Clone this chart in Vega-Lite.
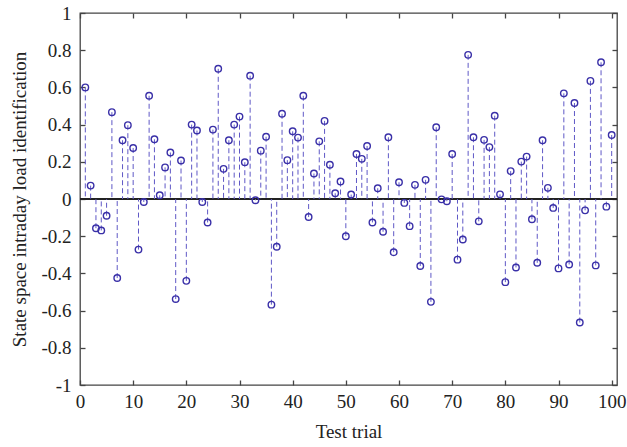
{
  "$schema": "https://vega.github.io/schema/vega-lite/v6.json",
  "width": 537,
  "height": 372,
  "autosize": {"type": "none"},
  "padding": {"left": 80, "top": 13, "right": 10, "bottom": 62},
  "background": "white",
  "config": {
    "view": {"stroke": "#444", "strokeWidth": 1.3},
    "font": "Liberation Serif",
    "axis": {
      "labelFont": "Liberation Serif",
      "titleFont": "Liberation Serif",
      "labelFontSize": 19,
      "titleFontSize": 19,
      "titleFontWeight": "normal",
      "labelColor": "#222",
      "titleColor": "#222",
      "grid": false,
      "domain": false,
      "tickColor": "#444",
      "tickWidth": 1.3,
      "tickSize": -5
    }
  },
  "data": {
    "values": [
      {"t":1,"v":0.60},{"t":2,"v":0.072},{"t":3,"v":-0.157},{"t":4,"v":-0.169},{"t":5,"v":-0.09},
      {"t":6,"v":0.467},{"t":7,"v":-0.425},{"t":8,"v":0.316},{"t":9,"v":0.397},{"t":10,"v":0.274},
      {"t":11,"v":-0.272},{"t":12,"v":-0.016},{"t":13,"v":0.555},{"t":14,"v":0.321},{"t":15,"v":0.02},
      {"t":16,"v":0.17},{"t":17,"v":0.25},{"t":18,"v":-0.538},{"t":19,"v":0.207},{"t":20,"v":-0.44},
      {"t":21,"v":0.40},{"t":22,"v":0.368},{"t":23,"v":-0.016},{"t":24,"v":-0.126},{"t":25,"v":0.373},
      {"t":26,"v":0.70},{"t":27,"v":0.162},{"t":28,"v":0.316},{"t":29,"v":0.40},{"t":30,"v":0.443},
      {"t":31,"v":0.198},{"t":32,"v":0.663},{"t":33,"v":-0.007},{"t":34,"v":0.26},{"t":35,"v":0.335},
      {"t":36,"v":-0.568},{"t":37,"v":-0.257},{"t":38,"v":0.458},{"t":39,"v":0.209},{"t":40,"v":0.364},
      {"t":41,"v":0.33},{"t":42,"v":0.555},{"t":43,"v":-0.097},{"t":44,"v":0.137},{"t":45,"v":0.31},
      {"t":46,"v":0.42},{"t":47,"v":0.184},{"t":48,"v":0.031},{"t":49,"v":0.094},{"t":50,"v":-0.20},
      {"t":51,"v":0.024},{"t":52,"v":0.242},{"t":53,"v":0.216},{"t":54,"v":0.285},{"t":55,"v":-0.126},
      {"t":56,"v":0.058},{"t":57,"v":-0.176},{"t":58,"v":0.332},{"t":59,"v":-0.286},{"t":60,"v":0.09},
      {"t":61,"v":-0.021},{"t":62,"v":-0.146},{"t":63,"v":0.076},{"t":64,"v":-0.36},{"t":65,"v":0.103},
      {"t":66,"v":-0.553},{"t":67,"v":0.386},{"t":68,"v":-0.002},{"t":69,"v":-0.012},{"t":70,"v":0.242},
      {"t":71,"v":-0.326},{"t":72,"v":-0.218},{"t":73,"v":0.775},{"t":74,"v":0.332},{"t":75,"v":-0.12},
      {"t":76,"v":0.318},{"t":77,"v":0.279},{"t":78,"v":0.448},{"t":79,"v":0.025},{"t":80,"v":-0.447},
      {"t":81,"v":0.15},{"t":82,"v":-0.368},{"t":83,"v":0.201},{"t":84,"v":0.228},{"t":85,"v":-0.109},
      {"t":86,"v":-0.343},{"t":87,"v":0.316},{"t":88,"v":0.06},{"t":89,"v":-0.048},{"t":90,"v":-0.373},
      {"t":91,"v":0.568},{"t":92,"v":-0.352},{"t":93,"v":0.516},{"t":94,"v":-0.664},{"t":95,"v":-0.061},
      {"t":96,"v":0.635},{"t":97,"v":-0.357},{"t":98,"v":0.735},{"t":99,"v":-0.041},{"t":100,"v":0.344}
    ]
  },
  "resolve": {"axis": {"x": "independent", "y": "independent"}},
  "layer": [
    {
      "mark": {"type": "rule", "color": "#222", "strokeWidth": 1.2},
      "encoding": {
        "y": {"datum": 0, "type": "quantitative", "scale": {"domain": [-1, 1]}, "axis": null}
      }
    },
    {
      "mark": {"type": "rule", "color": "#5f58c6", "strokeWidth": 1, "strokeDash": [5, 3]},
      "encoding": {
        "x": {"field": "t", "type": "quantitative", "axis": null},
        "y": {"field": "v", "type": "quantitative", "axis": null},
        "y2": {"datum": 0}
      }
    },
    {
      "mark": {"type": "point", "shape": "circle", "filled": false, "color": "#3a30a8", "size": 42, "strokeWidth": 1.4, "opacity": 1},
      "encoding": {
        "x": {
          "field": "t", "type": "quantitative",
          "scale": {"domain": [0, 101], "nice": false, "zero": false},
          "axis": {"orient": "bottom", "values": [0,10,20,30,40,50,60,70,80,90,100], "title": "Test trial", "labelPadding": 12, "titlePadding": 11, "labelFlush": false}
        },
        "y": {
          "field": "v", "type": "quantitative",
          "scale": {"domain": [-1, 1], "nice": false},
          "axis": {"orient": "left", "values": [-1,-0.8,-0.6,-0.4,-0.2,0,0.2,0.4,0.6,0.8,1], "title": "State space intraday load identification", "labelPadding": 14, "titlePadding": 11, "labelExpr": "replace(format(datum.value, '~g'), '\u2212', '-')"}
        }
      }
    },
    {
      "mark": {"type": "point", "opacity": 0},
      "encoding": {
        "x": {"field": "t", "type": "quantitative", "axis": {"orient": "top", "values": [0,10,20,30,40,50,60,70,80,90,100], "labels": false, "title": null}},
        "y": {"field": "v", "type": "quantitative", "axis": {"orient": "right", "values": [-1,-0.8,-0.6,-0.4,-0.2,0,0.2,0.4,0.6,0.8,1], "labels": false, "title": null}}
      }
    }
  ]
}
